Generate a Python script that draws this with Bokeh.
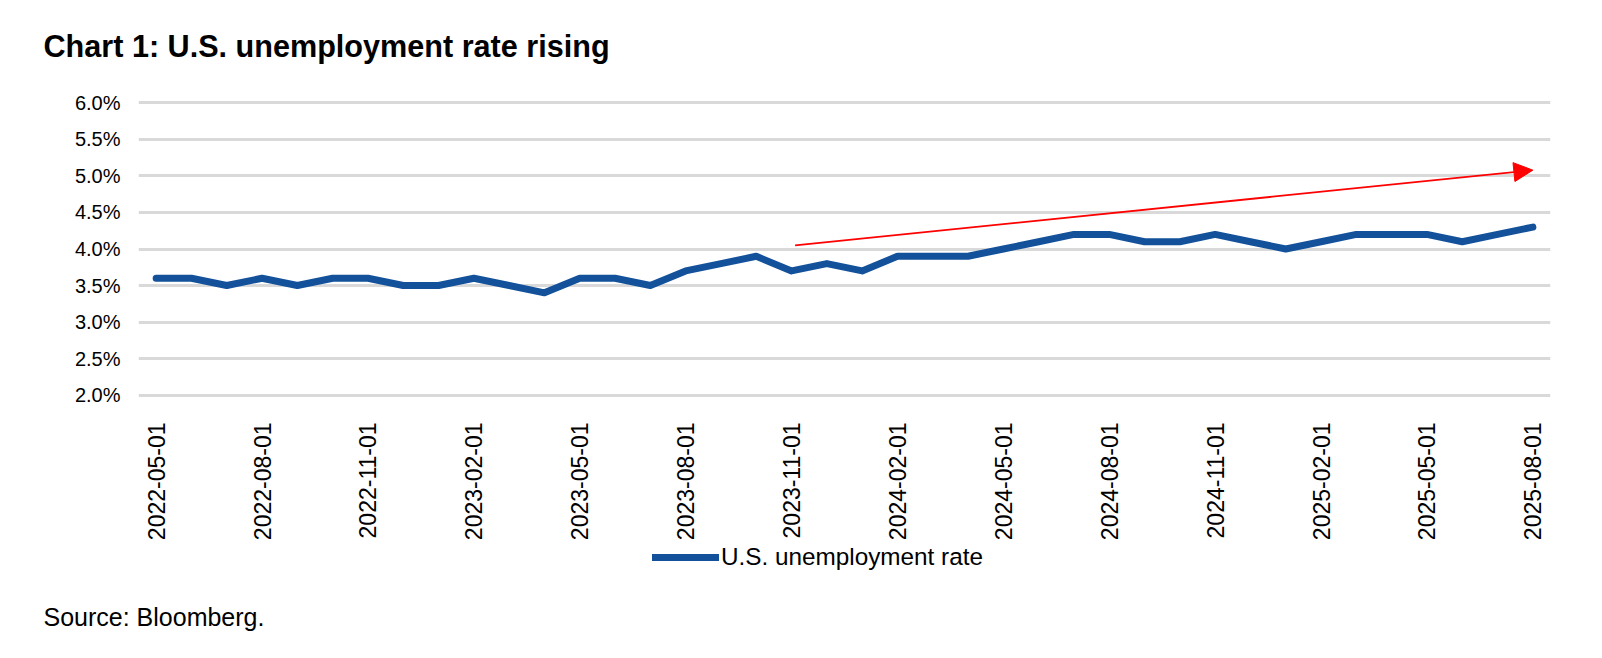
import math
import pandas as pd
from bokeh.plotting import figure
from bokeh.layouts import column
from bokeh.models import (Range1d, FixedTicker, PrintfTickFormatter, Legend, LegendItem,
                          Title, Arrow, NormalHead)
from bokeh.embed import file_html
from bokeh.resources import INLINE

# ---- data ----
dates = [d.strftime("%Y-%m-%d") for d in pd.date_range("2022-05-01", "2025-08-01", freq="MS")]
unemployment = [3.6, 3.6, 3.5, 3.6, 3.5, 3.6, 3.6, 3.5,
                3.5, 3.6, 3.5, 3.4, 3.6, 3.6, 3.5, 3.7, 3.8, 3.9, 3.7, 3.8,
                3.7, 3.9, 3.9, 3.9, 4.0, 4.1, 4.2, 4.2, 4.1, 4.1, 4.2, 4.1,
                4.0, 4.1, 4.2, 4.2, 4.2, 4.1, 4.2, 4.3]
y_ticks = [2.0, 2.5, 3.0, 3.5, 4.0, 4.5, 5.0, 5.5, 6.0]
x_tick_idx = list(range(0, len(dates), 3))
series_name = "U.S. unemployment rate"
title_text = "Chart 1: U.S. unemployment rate rising"
source_text = "Source: Bloomberg."
# trend arrow (annotation): start / end in (month index, %)
arrow_start = (18.1, 4.05)
arrow_end = (39.0, 5.08)

FONT = "Liberation Sans"
BLUE = "#13519B"
LINE_STYLE = dict(line_color=BLUE, line_width=7, line_cap="round", line_join="round")

W = 1586
H_TOP, H_MAIN, H_BOT = 70, 473, 99
LEFT, RIGHT, TOP, FRAME_H = 138, 36, 30, 300
BOTTOM = H_MAIN - TOP - FRAME_H
PAD = 0.034  # keeps the 2.0% / 6.0% grid lines inside the frame


def strip(height, bottom_border):
    f = figure(width=W, height=height, output_backend="svg", toolbar_location=None,
               x_range=Range1d(0, 1), y_range=Range1d(0, 1),
               x_axis_location=None, y_axis_location=None,
               min_border=0, min_border_bottom=bottom_border, outline_line_color=None,
               background_fill_color="white", border_fill_color="white")
    f.grid.visible = False
    return f


# ---- title strip ----
pt = strip(H_TOP, 50)
pt.add_layout(Title(text=title_text, align="left", offset=-95, standoff=16,
                    text_font=FONT, text_font_size="30.6px", text_font_style="bold",
                    text_color="black"), "below")

# ---- main chart ----
p = figure(width=W, height=H_MAIN, output_backend="svg", toolbar_location=None,
           x_range=Range1d(-0.5, len(dates) - 0.5),
           y_range=Range1d(y_ticks[0] - PAD, y_ticks[-1] + PAD),
           min_border_left=LEFT, min_border_right=RIGHT,
           min_border_top=TOP, min_border_bottom=BOTTOM,
           outline_line_color=None, background_fill_color="white",
           border_fill_color="white")

xs = list(range(len(dates)))
r = p.line(xs, unemployment, **LINE_STYLE)

p.xaxis.ticker = FixedTicker(ticks=x_tick_idx)
p.xaxis.major_label_overrides = {i: dates[i] for i in x_tick_idx}
p.xaxis.major_label_orientation = math.pi / 2
p.yaxis.ticker = FixedTicker(ticks=y_ticks)
p.yaxis.formatter = PrintfTickFormatter(format="%.1f%%")
for ax in (p.xaxis, p.yaxis):
    ax.axis_line_color = None
    ax.major_tick_line_color = None
    ax.minor_tick_line_color = None
    ax.major_tick_out = 0
    ax.major_tick_in = 0
    ax.major_label_text_font = FONT
    ax.major_label_text_color = "black"
p.xaxis.major_label_text_font_size = "23px"
p.yaxis.major_label_text_font_size = "20px"
p.xaxis.major_label_standoff = 25
p.yaxis.major_label_standoff = 18

p.xgrid.grid_line_color = None
p.ygrid.ticker = FixedTicker(ticks=y_ticks)
p.ygrid.grid_line_color = "#D9D9D9"
p.ygrid.grid_line_width = 3

p.add_layout(Arrow(x_start=arrow_start[0], y_start=arrow_start[1],
                   x_end=arrow_end[0], y_end=arrow_end[1],
                   line_color="#FF0000", line_width=1.8,
                   end=NormalHead(size=19, fill_color="#FF0000", line_color="#FF0000")))

# ---- legend + source strip ----
pb = strip(H_BOT, 45)
# same series (lies outside this strip's view); used only as the legend key
r_key = pb.line(xs, unemployment, **LINE_STYLE)
legend = Legend(items=[LegendItem(label=series_name, renderers=[r_key])],
                location=(514, 26), glyph_width=67, glyph_height=28,
                label_height=28, label_standoff=2, padding=0, margin=0,
                border_line_color=None, background_fill_alpha=0,
                label_text_font=FONT, label_text_font_size="24.3px",
                label_text_color="black")
pb.add_layout(legend, "center")
pb.add_layout(Title(text=source_text, align="left", offset=-95, standoff=7,
                    text_font=FONT, text_font_size="25px", text_font_style="normal",
                    text_color="black"), "below")

layout = column(pt, p, pb, spacing=0)
open("out.html", "w").write(file_html(layout, INLINE))
